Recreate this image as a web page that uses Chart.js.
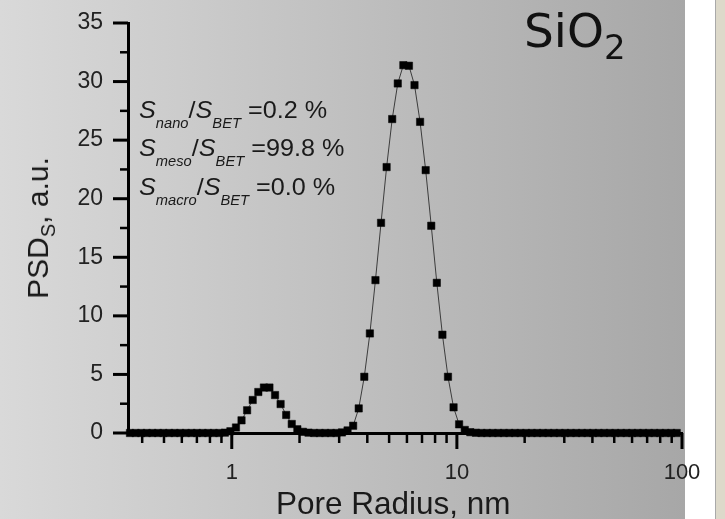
<!DOCTYPE html>
<html>
<head>
<meta charset="utf-8">
<script src="https://cdn.jsdelivr.net/npm/chart.js@4"></script>
<style>
html,body{margin:0;padding:0;}
body{width:725px;height:519px;overflow:hidden;position:relative;background:#ffffff;}
#bg{position:absolute;left:0;top:0;width:685px;height:519px;background:linear-gradient(to right,#d9d9d9,#a7a7a7);}
#edge{position:absolute;left:715px;top:0;width:10px;height:519px;background:#ddd9ca;border-left:1px solid #a9a9a9;box-sizing:border-box;}
#c{position:absolute;left:0;top:0;}
.t{position:absolute;white-space:nowrap;color:#1a1a1a;font-family:'Liberation Sans',Arial,sans-serif;line-height:1;}
.t sub{line-height:0;}
.note{font-size:24px;transform:scaleX(1.05);transform-origin:0 0;}
.note sub{font-size:14px;vertical-align:-10px;font-style:italic;}
#ytitle{font-size:30px;left:38px;top:228px;transform:translate(-50%,-50%) rotate(-90deg);}
#ytitle sub{font-size:20px;vertical-align:-7px;}
#xtitle{font-size:31.5px;left:276px;top:488px;}
#sio2{font-family:'DejaVu Sans',sans-serif;font-size:47px;left:524px;top:7px;color:#111;}
#sio2 sub{font-size:34px;vertical-align:-12px;}
</style>
</head>
<body>
<div id="bg"></div>
<div id="edge"></div>
<canvas id="c" width="725" height="519"></canvas>
<div class="t" id="ytitle">PSD<sub>S</sub>, a.u.</div>
<div class="t" id="xtitle"></div>
<div class="t" id="sio2">SiO<sub>2</sub></div>
<div class="t note" style="left:139px;top:98px;"><i>S</i><sub>nano</sub>/<i>S</i><sub>BET</sub> =0.2 %</div>
<div class="t note" style="left:139px;top:136px;"><i>S</i><sub>meso</sub>/<i>S</i><sub>BET</sub> =99.8 %</div>
<div class="t note" style="left:139px;top:175px;"><i>S</i><sub>macro</sub>/<i>S</i><sub>BET</sub> =0.0 %</div>
<script>
// Pore radius (nm), log-spaced sampling points
const radius = [
  0.353,0.374,0.396,0.419,0.444,0.470,0.497,0.527,0.557,0.590,
  0.625,0.662,0.700,0.742,0.785,0.831,0.880,0.932,0.986,1.044,
  1.105,1.170,1.239,1.312,1.389,1.470,1.557,1.648,1.745,1.847,
  1.956,2.071,2.192,2.321,2.457,2.602,2.754,2.916,3.087,3.269,
  3.461,3.664,3.879,4.107,4.348,4.604,4.874,5.160,5.463,5.784,
  6.124,6.483,6.864,7.267,7.694,8.145,8.624,9.130,9.666,10.23,
  10.84,11.47,12.15,12.86,13.61,14.41,15.26,16.16,17.10,18.11,
  19.17,20.30,21.49,22.75,24.09,25.50,27.00,28.59,30.26,32.04,
  33.92,35.91,38.02,40.26,42.62,45.12,47.77,50.58,53.55,56.69,
  60.02,63.55,67.28,71.23,75.41,79.84,84.53,89.49,94.75
];
// PSD_S values (a.u.)
const psd = [
  0,0,0,0,0,0,0,0,0,0,0,0,0,0,0,0,0,
  0.03,0.15,0.47,1.08,1.94,2.82,3.50,3.88,3.88,3.24,2.47,1.54,0.77,0.32,0.10,0.03,
  0,0,0,0,0,
  0.05,0.22,0.62,2.10,4.80,8.50,13.05,17.94,22.70,26.80,29.84,31.40,31.35,29.70,26.56,22.44,17.69,12.82,8.39,4.80,2.19,0.74,0.26,0.07,0.02,
  0,0,0,0,0,0,0,0,0,0,0,0,0,0,0,0,0,0,0,0,0,0,0,0,0,0,0,0,0,0,0,0,0,0,0,0
];
const xMajorTicks = [1, 10, 100];
const xMinorTicks = [0.4,0.5,0.6,0.7,0.8,0.9,2,3,4,5,6,7,8,9,20,30,40,50,60,70,80,90];
const yMajorTicks = [0,5,10,15,20,25,30,35];
const yMinorTicks = [2.5,7.5,12.5,17.5,22.5,27.5,32.5];
const xTitle = 'Pore Radius, nm';
document.getElementById('xtitle').textContent = xTitle;

const FONT = "'Liberation Sans', Arial, sans-serif";

const tickPlugin = {
  id: 'customTicks',
  beforeDatasetsDraw(chart) {
    const {ctx, chartArea, scales} = chart;
    const xs = scales.x, ys = scales.y;
    ctx.save();
    ctx.strokeStyle = '#000';
    ctx.lineCap = 'butt';
    const seg = (x1, y1, x2, y2, w) => {
      ctx.lineWidth = w;
      ctx.beginPath(); ctx.moveTo(x1, y1); ctx.lineTo(x2, y2); ctx.stroke();
    };
    yMajorTicks.forEach(v => { const p = ys.getPixelForValue(v); seg(chartArea.left - 15, p, chartArea.left, p, 3); });
    yMinorTicks.forEach(v => { const p = ys.getPixelForValue(v); seg(chartArea.left - 8, p, chartArea.left, p, 2.5); });
    xMajorTicks.forEach(v => { const p = xs.getPixelForValue(v); seg(p, chartArea.bottom, p, chartArea.bottom + 16, 3); });
    xMinorTicks.forEach(v => { const p = xs.getPixelForValue(v); seg(p, chartArea.bottom, p, chartArea.bottom + 10, 2.5); });
    ctx.restore();
  }
};

new Chart(document.getElementById('c'), {
  type: 'line',
  data: {
    datasets: [{
      data: radius.map((r, i) => ({x: r, y: psd[i]})),
      borderColor: '#3c3c3c',
      borderWidth: 1,
      pointStyle: 'rect',
      pointRadius: 5.2,
      pointBackgroundColor: '#000',
      pointBorderColor: '#000',
      pointBorderWidth: 0.5,
      tension: 0,
      clip: false
    }]
  },
  options: {
    responsive: false,
    animation: false,
    devicePixelRatio: 1,
    layout: {padding: {left: 0, top: 23, right: 43, bottom: 0}},
    plugins: {legend: {display: false}, tooltip: {enabled: false}},
    scales: {
      x: {
        type: 'logarithmic',
        bounds: 'data',
        min: 0.346, max: 100,
        grid: {display: false, drawTicks: true, tickLength: 27},
        border: {display: true, color: '#000', width: 3},
        ticks: {
          autoSkip: false, maxRotation: 0, padding: 0, color: '#222',
          font: {family: FONT, size: 22},
          callback: (v) => xMajorTicks.includes(v) ? String(v) : ''
        },
        title: {display: false},
        afterFit: (s) => { s.height = 86; }
      },
      y: {
        min: 0, max: 35,
        grid: {display: false, drawTicks: true, tickLength: 25},
        border: {display: true, color: '#000', width: 3},
        ticks: {stepSize: 5, padding: 0, color: '#222', font: {family: FONT, size: 23}},
        afterFit: (s) => { s.width = 128; }
      }
    }
  },
  plugins: [tickPlugin]
});
</script>
</body>
</html>
